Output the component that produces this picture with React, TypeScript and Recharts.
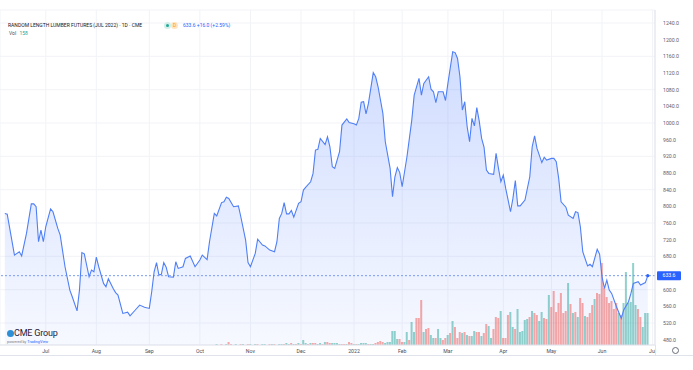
import React from "react";
import {
  ComposedChart,
  Area,
  Line,
  Bar,
  Cell,
  XAxis,
  YAxis,
  CartesianGrid,
  ReferenceLine,
  ReferenceDot,
} from "recharts";

// trading-day index of each price sample (0 = early June 2021)
const priceDays = [
  2, 3, 6, 8, 9, 11, 13, 14, 15, 16, 17, 18, 19, 21, 22, 24, 25, 27, 29, 30, 32, 33, 34, 35, 37, 38, 39, 40, 41, 43,
  44, 45, 47, 48, 49, 51, 53, 54, 56, 58, 60, 62, 63, 64, 65, 66, 67, 68, 69, 70, 72, 73, 74, 76, 77, 79, 81, 83, 84,
  86, 87, 89, 90, 92, 93, 94, 95, 97, 99, 100, 102, 103, 104, 106, 107, 109, 110, 112, 114, 115, 116, 117, 118, 119,
  120, 121, 122, 124, 125, 126, 127, 129, 130, 131, 132, 133, 135, 136, 137, 138, 139, 141, 142, 144, 145, 147, 148,
  149, 150, 151, 152, 153, 155, 156, 157, 159, 160, 162, 163, 164, 165, 166, 167, 169, 171, 172, 174, 175, 176, 178,
  179, 180, 181, 182, 184, 185, 186, 188, 189, 190, 191, 192, 193, 194, 195, 196, 197, 198, 199, 200, 201, 202, 203,
  205, 206, 207, 208, 209, 210, 212, 213, 214, 215, 216, 218, 220, 221, 222, 223, 225, 226, 227, 229, 230, 231, 232,
  233, 235, 236, 238, 239, 240, 241, 242, 244, 245, 246, 248, 249, 250, 251, 252, 253, 254, 256, 258, 259, 261, 262,
  263, 265, 266, 268, 269,
];
const prices = [
  783, 781, 683, 691, 681, 735, 806, 806, 799, 715, 743, 715, 751, 794, 787, 747, 731, 655, 599, 583, 549, 599, 689,
  686, 631, 647, 643, 678, 655, 615, 607, 626, 603, 593, 587, 543, 546, 537, 550, 563, 558, 555, 595, 643, 665, 635,
  637, 665, 654, 631, 630, 667, 651, 655, 675, 681, 655, 671, 683, 672, 715, 783, 777, 809, 811, 822, 819, 799, 801,
  775, 719, 665, 655, 687, 721, 707, 705, 695, 691, 715, 771, 783, 809, 782, 782, 790, 774, 807, 811, 839, 846, 859,
  879, 935, 937, 963, 948, 967, 943, 895, 891, 931, 995, 1010, 1001, 998, 995, 1011, 1050, 1051, 1022, 1047, 1121,
  1111, 1087, 1023, 955, 891, 823, 871, 893, 881, 847, 919, 1007, 1067, 1107, 1067, 1095, 1111, 1081, 1075, 1049,
  1075, 1075, 1054, 1095, 1171, 1169, 1155, 1111, 1031, 1051, 991, 955, 1011, 993, 1037, 1005, 963, 942, 887, 879,
  877, 927, 891, 859, 875, 843, 787, 819, 862, 801, 801, 815, 871, 943, 969, 939, 905, 918, 911, 915, 915, 907, 867,
  811, 798, 779, 771, 787, 785, 751, 691, 657, 661, 655, 697, 685, 631, 603, 623, 599, 591, 559, 531, 551, 571, 591,
  615, 619, 611, 617, 633.6,
];

// daily volume (contracts) starting at trading day 90
const volStartDay = 90;
const volumes = [
  25, 0, 25, 0, 25, 75, 25, 0, 25, 0, 25, 25, 0, 25, 25, 0, 25, 25, 0, 25, 25, 0, 25, 25, 25, 0, 25, 25, 25, 50, 25,
  50, 25, 25, 50, 25, 125, 50, 25, 50, 50, 50, 25, 50, 25, 75, 75, 50,
  50, 50, 50, 25, 25, 25, 25, 75, 50, 25, 25, 25, 50, 50, 50, 25, 25, 25, 50, 75, 100, 75, 50, 75, 75, 350, 350, 150,
  150, 75, 75, 325, 125, 575, 325, 675, 675, 1125, 325, 400, 425, 250, 175, 175, 400, 175, 125, 175, 250, 300, 600,
  450,
  175, 325, 300, 325, 250, 225, 225, 350, 325, 325, 225, 300, 525, 475, 175, 400, 700, 675, 850, 175,
  175, 750, 825, 450, 400, 900, 325, 350, 625, 650, 700, 850, 800, 750, 600, 825, 675, 650, 1250, 950, 1350, 825,
  1050, 1300, 800, 850, 1550, 1025, 800, 825, 700, 1175, 1050, 725, 700, 800, 1000, 1150, 1300, 1275, 2050, 1425,
  1200, 1050, 1100, 900, 1050, 800, 750, 1050, 1825, 1050, 1075, 2050, 1000, 900, 700, 450, 800, 800,
];
// g = up day (green), r = down day (red), one letter per volume entry
const volDirection =
  "ggrggrrggg" + "rggrgggrgg" + "ggrgrgggrg" + "grgrgrggrg" + "rrggrgrr" +
  "ggggrrgrrg" + "rggggrggrr" + "rrggggggrr" + "ggrggrrrgr" + "rggrggrrgr" +
  "grrrgrgrgg" + "rrgrrggrrr" + "grrrggrggg" + "ggrgrrggrr" + "grrrrrrrgr" +
  "grgrrgrrrg" + "rrrrrrrrrg" + "rggggggrrg" + "gg";

const monthTicks = [19, 40, 62, 83, 104, 125, 147, 167, 186, 209, 229, 250, 271];
const monthLabels = ["Jul", "Aug", "Sep", "Oct", "Nov", "Dec", "2022", "Feb", "Mar", "Apr", "May", "Jun", "Jul"];
const priceTicks = [480, 520, 560, 600, 680, 720, 760, 800, 840, 880, 920, 960, 1000, 1040, 1080, 1120, 1160, 1200, 1240];
const lastPrice = 633.6;
const lastDay = 269;

const priceByDay = new Map<number, number>();
priceDays.forEach((d, k) => priceByDay.set(d, prices[k]));

const rows: { i: number; price: number | null; vol: number | null; up: boolean }[] = [];
for (let i = 0; i <= 272; i++) {
  const vi = i - volStartDay;
  const hasVol = vi >= 0 && vi < volumes.length;
  rows.push({
    i,
    price: priceByDay.has(i) ? (priceByDay.get(i) as number) : null,
    vol: hasVol ? volumes[vi] : null,
    up: hasVol ? volDirection[vi] !== "r" : true,
  });
}

const FONT = "Roboto, 'Liberation Sans', sans-serif";

const PriceBox = (props: any) => {
  const vb = props.viewBox || {};
  const x = (vb.x || 0) + (vb.width || 0) + 2;
  const y = vb.y || 0;
  return (
    <g>
      <rect x={x} y={y - 4.5} width={24} height={9} rx={1} fill="#2962ff" />
      <text x={x + 12} y={y + 1.8} textAnchor="middle" fontSize={5.2} fill="#ffffff" fontFamily={FONT}>
        {lastPrice.toFixed(1)}
      </text>
    </g>
  );
};

export default function App() {
  return (
    <div
      style={{
        position: "absolute",
        left: 0,
        top: 0,
        width: 693,
        height: 370,
        background: "#ffffff",
        fontFamily: FONT,
        overflow: "hidden",
      }}
    >
      <ComposedChart
        width={693}
        height={370}
        data={rows}
        margin={{ top: 10, right: 0, bottom: 0, left: 0 }}
      >
        <defs>
          <linearGradient id="areaFill" x1="0" y1="0" x2="0" y2="1">
            <stop offset="0%" stopColor="#2962ff" stopOpacity={0.22} />
            <stop offset="100%" stopColor="#2962ff" stopOpacity={0.04} />
          </linearGradient>
        </defs>
        <CartesianGrid stroke="#f2f3f7" strokeWidth={1} yAxisId="p" />
        <XAxis
          dataKey="i"
          type="number"
          domain={[0, 272]}
          allowDataOverflow
          ticks={monthTicks}
          tickFormatter={(v: number) => monthLabels[monthTicks.indexOf(v)] ?? ""}
          height={25}
          tickSize={0}
          tickMargin={4}
          axisLine={{ stroke: "#e0e3eb" }}
          tick={{ fontSize: 5.2, fill: "#4a4e5a", fontFamily: FONT }}
        />
        <YAxis
          yAxisId="p"
          orientation="right"
          type="number"
          domain={[467.2, 1271.2]}
          allowDataOverflow
          ticks={priceTicks}
          tickFormatter={(v: number) => v.toFixed(1)}
          width={38}
          tickSize={0}
          tickMargin={8}
          axisLine={{ stroke: "#e0e3eb" }}
          tick={{ fontSize: 5.2, fill: "#5d606b", fontFamily: FONT, textAnchor: "start" }}
        />
        <YAxis yAxisId="v" hide domain={[0, 8375]} allowDataOverflow />
        <Area
          yAxisId="p"
          dataKey="price"
          type="linear"
          stroke="none"
          fill="url(#areaFill)"
          fillOpacity={1}
          connectNulls
          dot={false}
          activeDot={false}
          isAnimationActive={false}
        />
        <Bar yAxisId="v" dataKey="vol" barSize={2} isAnimationActive={false}>
          {rows.map((r) => (
            <Cell key={r.i} fill={r.up ? "#26a69a" : "#ef5350"} fillOpacity={0.5} />
          ))}
        </Bar>
        <ReferenceLine
          yAxisId="p"
          y={lastPrice}
          stroke="#7b9cf5"
          strokeWidth={1}
          strokeDasharray="2 2"
          label={<PriceBox />}
        />
        <Line
          yAxisId="p"
          dataKey="price"
          type="linear"
          stroke="#4f7ff5"
          strokeWidth={1.1}
          connectNulls
          dot={false}
          activeDot={false}
          isAnimationActive={false}
        />
        <ReferenceDot yAxisId="p" x={lastDay} y={lastPrice} r={1.6} fill="#2962ff" stroke="none" />
      </ComposedChart>

      {/* header */}
      <div
        style={{
          position: "absolute",
          left: 8,
          top: 22,
          fontSize: 5,
          color: "#131722",
          whiteSpace: "nowrap",
          lineHeight: "6px",
        }}
      >
        RANDOM LENGTH LUMBER FUTURES (JUL 2022) · 1D · CME
      </div>
      <div
        style={{
          position: "absolute",
          left: 164,
          top: 22,
          width: 7,
          height: 7,
          borderRadius: 4,
          background: "#d3efe9",
        }}
      >
        <div style={{ position: "absolute", left: 2, top: 2, width: 3, height: 3, borderRadius: 2, background: "#26a69a" }} />
      </div>
      <div
        style={{
          position: "absolute",
          left: 171,
          top: 22,
          width: 7,
          height: 7,
          borderRadius: 4,
          background: "#ffe3bf",
          color: "#ff9800",
          fontSize: 4.5,
          lineHeight: "7px",
          textAlign: "center",
        }}
      >
        D
      </div>
      <div
        style={{
          position: "absolute",
          left: 183,
          top: 22,
          fontSize: 5,
          color: "#2962ff",
          whiteSpace: "nowrap",
          lineHeight: "6px",
        }}
      >
        633.6 +16.0 (+2.59%)
      </div>
      <div style={{ position: "absolute", left: 9, top: 30, fontSize: 5, color: "#4a4e5a", lineHeight: "6px" }}>
        Vol <span style={{ color: "#26a69a", marginLeft: 2 }}>158</span>
      </div>

      {/* logo */}
      <div style={{ position: "absolute", left: 7, top: 330, width: 6.5, height: 6.5, borderRadius: 4, background: "#2d8fd5" }} />
      <div
        style={{
          position: "absolute",
          left: 14,
          top: 328,
          fontSize: 9,
          color: "#1e2235",
          lineHeight: "11px",
          whiteSpace: "nowrap",
          letterSpacing: -0.2,
        }}
      >
        CME Group
      </div>
      <div style={{ position: "absolute", left: 7, top: 339, fontSize: 3.8, color: "#787b86", whiteSpace: "nowrap", lineHeight: "5px" }}>
        powered by <span style={{ color: "#2962ff" }}>TradingView</span>
      </div>

      {/* bottom border & gear */}
      <div style={{ position: "absolute", left: 0, top: 355, width: 693, height: 1, background: "#e0e3eb" }} />
      <div style={{ position: "absolute", left: 655, top: 345, width: 1, height: 10, background: "#e0e3eb" }} />
      <div
        style={{
          position: "absolute",
          left: 672,
          top: 347,
          width: 5,
          height: 5,
          borderRadius: 4,
          border: "1px solid #6a6d78",
        }}
      />
    </div>
  );
}
